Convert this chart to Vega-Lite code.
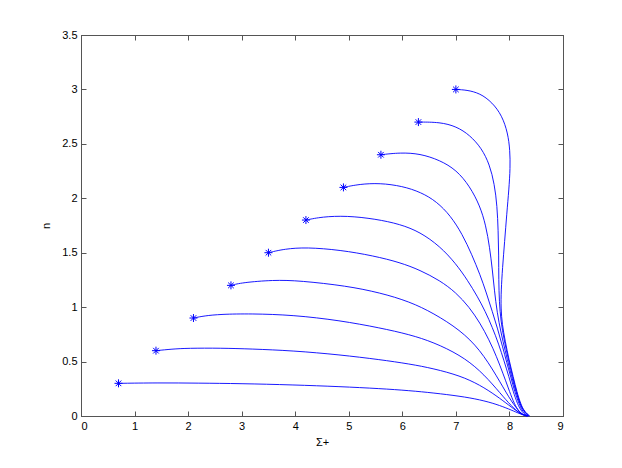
{
  "$schema": "https://vega.github.io/schema/vega-lite/v6.json",
  "width": 482,
  "height": 381,
  "autosize": {"type": "none"},
  "padding": {"left": 81, "top": 35, "right": 59, "bottom": 52},
  "background": "white",
  "config": {
    "view": {"stroke": "#555", "strokeWidth": 1},
    "axis": {
      "grid": false,
      "labelFont": "Liberation Sans",
      "titleFont": "Liberation Sans",
      "labelFontSize": 11,
      "titleFontSize": 11,
      "labelColor": "#000",
      "titleColor": "#000",
      "titleFontWeight": "normal",
      "domainColor": "#555",
      "tickColor": "#555",
      "tickSize": -5,
      "labelPadding": 9
    }
  },
  "datasets": {
    "curves": [
      {"c":1,"i":0,"x":0.7,"y":0.3},{"c":1,"i":1,"x":1.43,"y":0.305},{"c":1,"i":2,"x":2.2,"y":0.302},{"c":1,"i":3,"x":2.97,"y":0.298},{"c":1,"i":4,"x":3.96,"y":0.286},{"c":1,"i":5,"x":4.84,"y":0.27},{"c":1,"i":6,"x":5.58,"y":0.252},{"c":1,"i":7,"x":6.14,"y":0.233},{"c":1,"i":8,"x":6.58,"y":0.212},{"c":1,"i":9,"x":7.08,"y":0.182},{"c":1,"i":10,"x":7.45,"y":0.15},{"c":1,"i":11,"x":7.76,"y":0.108},{"c":1,"i":12,"x":8.0,"y":0.062},{"c":1,"i":13,"x":8.15,"y":0.03},{"c":1,"i":14,"x":8.25,"y":0.01},{"c":1,"i":15,"x":8.32,"y":0},
      {"c":2,"i":0,"x":1.4,"y":0.6},{"c":2,"i":1,"x":1.7,"y":0.615},{"c":2,"i":2,"x":1.99,"y":0.623},{"c":2,"i":3,"x":2.61,"y":0.624},{"c":2,"i":4,"x":3.17,"y":0.616},{"c":2,"i":5,"x":3.96,"y":0.6},{"c":2,"i":6,"x":4.84,"y":0.562},{"c":2,"i":7,"x":5.58,"y":0.518},{"c":2,"i":8,"x":6.14,"y":0.478},{"c":2,"i":9,"x":6.58,"y":0.436},{"c":2,"i":10,"x":7.08,"y":0.37},{"c":2,"i":11,"x":7.45,"y":0.285},{"c":2,"i":12,"x":7.76,"y":0.185},{"c":2,"i":13,"x":8.0,"y":0.095},{"c":2,"i":14,"x":8.15,"y":0.04},{"c":2,"i":15,"x":8.25,"y":0.012},{"c":2,"i":16,"x":8.33,"y":0},
      {"c":3,"i":0,"x":2.1,"y":0.9},{"c":3,"i":1,"x":2.3,"y":0.92},{"c":3,"i":2,"x":2.61,"y":0.935},{"c":3,"i":3,"x":3.17,"y":0.94},{"c":3,"i":4,"x":3.96,"y":0.928},{"c":3,"i":5,"x":4.84,"y":0.877},{"c":3,"i":6,"x":5.58,"y":0.81},{"c":3,"i":7,"x":6.14,"y":0.748},{"c":3,"i":8,"x":6.58,"y":0.678},{"c":3,"i":9,"x":7.08,"y":0.56},{"c":3,"i":10,"x":7.45,"y":0.42},{"c":3,"i":11,"x":7.76,"y":0.25},{"c":3,"i":12,"x":8.0,"y":0.11},{"c":3,"i":13,"x":8.15,"y":0.04},{"c":3,"i":14,"x":8.25,"y":0.012},{"c":3,"i":15,"x":8.34,"y":0},
      {"c":4,"i":0,"x":2.8,"y":1.2},{"c":4,"i":1,"x":3.0,"y":1.225},{"c":4,"i":2,"x":3.59,"y":1.25},{"c":4,"i":3,"x":4.09,"y":1.243},{"c":4,"i":4,"x":4.96,"y":1.195},{"c":4,"i":5,"x":5.58,"y":1.133},{"c":4,"i":6,"x":6.14,"y":1.05},{"c":4,"i":7,"x":6.58,"y":0.945},{"c":4,"i":8,"x":7.08,"y":0.79},{"c":4,"i":9,"x":7.45,"y":0.61},{"c":4,"i":10,"x":7.76,"y":0.37},{"c":4,"i":11,"x":8.0,"y":0.16},{"c":4,"i":12,"x":8.17,"y":0.045},{"c":4,"i":13,"x":8.26,"y":0.01},{"c":4,"i":14,"x":8.35,"y":0},
      {"c":5,"i":0,"x":3.5,"y":1.5},{"c":5,"i":1,"x":3.8,"y":1.535},{"c":5,"i":2,"x":4.21,"y":1.55},{"c":5,"i":3,"x":4.84,"y":1.525},{"c":5,"i":4,"x":5.46,"y":1.472},{"c":5,"i":5,"x":5.96,"y":1.41},{"c":5,"i":6,"x":6.33,"y":1.34},{"c":5,"i":7,"x":6.7,"y":1.245},{"c":5,"i":8,"x":7.0,"y":1.135},{"c":5,"i":9,"x":7.25,"y":1.0},{"c":5,"i":10,"x":7.45,"y":0.855},{"c":5,"i":11,"x":7.62,"y":0.7},{"c":5,"i":12,"x":7.76,"y":0.545},{"c":5,"i":13,"x":7.88,"y":0.39},{"c":5,"i":14,"x":7.98,"y":0.255},{"c":5,"i":15,"x":8.07,"y":0.135},{"c":5,"i":16,"x":8.16,"y":0.05},{"c":5,"i":17,"x":8.24,"y":0.012},{"c":5,"i":18,"x":8.33,"y":0},
      {"c":6,"i":0,"x":4.2,"y":1.8},{"c":6,"i":1,"x":4.5,"y":1.83},{"c":6,"i":2,"x":4.96,"y":1.84},{"c":6,"i":3,"x":5.5,"y":1.81},{"c":6,"i":4,"x":5.96,"y":1.762},{"c":6,"i":5,"x":6.33,"y":1.69},{"c":6,"i":6,"x":6.7,"y":1.56},{"c":6,"i":7,"x":7.0,"y":1.4},{"c":6,"i":8,"x":7.22,"y":1.245},{"c":6,"i":9,"x":7.4,"y":1.1},{"c":6,"i":10,"x":7.55,"y":0.96},{"c":6,"i":11,"x":7.68,"y":0.815},{"c":6,"i":12,"x":7.8,"y":0.66},{"c":6,"i":13,"x":7.9,"y":0.505},{"c":6,"i":14,"x":7.99,"y":0.36},{"c":6,"i":15,"x":8.07,"y":0.225},{"c":6,"i":16,"x":8.15,"y":0.11},{"c":6,"i":17,"x":8.23,"y":0.035},{"c":6,"i":18,"x":8.34,"y":0},
      {"c":7,"i":0,"x":4.9,"y":2.1},{"c":7,"i":1,"x":5.2,"y":2.13},{"c":7,"i":2,"x":5.58,"y":2.14},{"c":7,"i":3,"x":6.0,"y":2.112},{"c":7,"i":4,"x":6.35,"y":2.055},{"c":7,"i":5,"x":6.64,"y":1.97},{"c":7,"i":6,"x":6.9,"y":1.84},{"c":7,"i":7,"x":7.12,"y":1.67},{"c":7,"i":8,"x":7.3,"y":1.48},{"c":7,"i":9,"x":7.45,"y":1.3},{"c":7,"i":10,"x":7.57,"y":1.13},{"c":7,"i":11,"x":7.68,"y":0.96},{"c":7,"i":12,"x":7.78,"y":0.8},{"c":7,"i":13,"x":7.87,"y":0.64},{"c":7,"i":14,"x":7.95,"y":0.49},{"c":7,"i":15,"x":8.03,"y":0.35},{"c":7,"i":16,"x":8.1,"y":0.22},{"c":7,"i":17,"x":8.18,"y":0.11},{"c":7,"i":18,"x":8.25,"y":0.035},{"c":7,"i":19,"x":8.35,"y":0},
      {"c":8,"i":0,"x":5.6,"y":2.4},{"c":8,"i":1,"x":5.96,"y":2.42},{"c":8,"i":2,"x":6.33,"y":2.41},{"c":8,"i":3,"x":6.7,"y":2.35},{"c":8,"i":4,"x":7.01,"y":2.26},{"c":8,"i":5,"x":7.26,"y":2.11},{"c":8,"i":6,"x":7.45,"y":1.93},{"c":8,"i":7,"x":7.56,"y":1.75},{"c":8,"i":8,"x":7.63,"y":1.55},{"c":8,"i":9,"x":7.68,"y":1.35},{"c":8,"i":10,"x":7.72,"y":1.15},{"c":8,"i":11,"x":7.77,"y":0.95},{"c":8,"i":12,"x":7.84,"y":0.77},{"c":8,"i":13,"x":7.92,"y":0.6},{"c":8,"i":14,"x":8.0,"y":0.44},{"c":8,"i":15,"x":8.08,"y":0.29},{"c":8,"i":16,"x":8.16,"y":0.16},{"c":8,"i":17,"x":8.24,"y":0.06},{"c":8,"i":18,"x":8.36,"y":0},
      {"c":9,"i":0,"x":6.3,"y":2.7},{"c":9,"i":1,"x":6.7,"y":2.7},{"c":9,"i":2,"x":7.01,"y":2.66},{"c":9,"i":3,"x":7.26,"y":2.58},{"c":9,"i":4,"x":7.48,"y":2.46},{"c":9,"i":5,"x":7.63,"y":2.31},{"c":9,"i":6,"x":7.72,"y":2.13},{"c":9,"i":7,"x":7.77,"y":1.93},{"c":9,"i":8,"x":7.79,"y":1.7},{"c":9,"i":9,"x":7.8,"y":1.48},{"c":9,"i":10,"x":7.8,"y":1.25},{"c":9,"i":11,"x":7.81,"y":1.05},{"c":9,"i":12,"x":7.84,"y":0.87},{"c":9,"i":13,"x":7.9,"y":0.7},{"c":9,"i":14,"x":7.98,"y":0.52},{"c":9,"i":15,"x":8.06,"y":0.36},{"c":9,"i":16,"x":8.13,"y":0.22},{"c":9,"i":17,"x":8.2,"y":0.11},{"c":9,"i":18,"x":8.27,"y":0.04},{"c":9,"i":19,"x":8.37,"y":0},
      {"c":10,"i":0,"x":7.0,"y":3.0},{"c":10,"i":1,"x":7.2,"y":2.995},{"c":10,"i":2,"x":7.45,"y":2.965},{"c":10,"i":3,"x":7.68,"y":2.88},{"c":10,"i":4,"x":7.86,"y":2.76},{"c":10,"i":5,"x":7.97,"y":2.6},{"c":10,"i":6,"x":8.01,"y":2.44},{"c":10,"i":7,"x":8.015,"y":2.28},{"c":10,"i":8,"x":7.99,"y":2.08},{"c":10,"i":9,"x":7.95,"y":1.86},{"c":10,"i":10,"x":7.91,"y":1.6},{"c":10,"i":11,"x":7.87,"y":1.36},{"c":10,"i":12,"x":7.845,"y":1.15},{"c":10,"i":13,"x":7.84,"y":0.99},{"c":10,"i":14,"x":7.865,"y":0.84},{"c":10,"i":15,"x":7.92,"y":0.69},{"c":10,"i":16,"x":7.99,"y":0.52},{"c":10,"i":17,"x":8.07,"y":0.36},{"c":10,"i":18,"x":8.14,"y":0.22},{"c":10,"i":19,"x":8.21,"y":0.11},{"c":10,"i":20,"x":8.28,"y":0.04},{"c":10,"i":21,"x":8.38,"y":0}
    ],
    "stars": [
      {"x":0.7,"y":0.3},{"x":1.4,"y":0.6},{"x":2.1,"y":0.9},{"x":2.8,"y":1.2},{"x":3.5,"y":1.5},
      {"x":4.2,"y":1.8},{"x":4.9,"y":2.1},{"x":5.6,"y":2.4},{"x":6.3,"y":2.7},{"x":7.0,"y":3.0}
    ]
  },
  "layer": [
    {
      "data": {"name": "curves"},
      "mark": {"type": "line", "color": "#0000ff", "strokeWidth": 0.9, "interpolate": "basis"},
      "encoding": {
        "x": {"field": "x", "type": "quantitative", "scale": {"domain": [0, 9], "nice": false},
              "axis": {"orient": "bottom", "values": [0,1,2,3,4,5,6,7,8,9], "title": "Σ+", "titlePadding": 5, "format": "~g"}},
        "y": {"field": "y", "type": "quantitative", "scale": {"domain": [0, 3.5], "nice": false},
              "axis": {"orient": "left", "values": [0,0.5,1,1.5,2,2.5,3,3.5], "title": "n", "titlePadding": 10, "format": "~g"}},
        "detail": {"field": "c", "type": "nominal"},
        "order": {"field": "i", "type": "quantitative"}
      }
    },
    {
      "data": {"name": "stars"},
      "mark": {"type": "point", "shape": "M0,-1L0,1M-1,0L1,0M-0.7,-0.7L0.7,0.7M-0.7,0.7L0.7,-0.7", "filled": false, "stroke": "#0000ff", "strokeWidth": 1, "size": 64, "opacity": 1},
      "encoding": {
        "x": {"field": "x", "type": "quantitative", "scale": {"domain": [0, 9], "nice": false},
              "axis": {"orient": "top", "values": [0,1,2,3,4,5,6,7,8,9], "labels": false, "title": null}},
        "y": {"field": "y", "type": "quantitative", "scale": {"domain": [0, 3.5], "nice": false},
              "axis": {"orient": "right", "values": [0,0.5,1,1.5,2,2.5,3,3.5], "labels": false, "title": null}}
      }
    }
  ],
  "resolve": {"axis": {"x": "independent", "y": "independent"}}
}
